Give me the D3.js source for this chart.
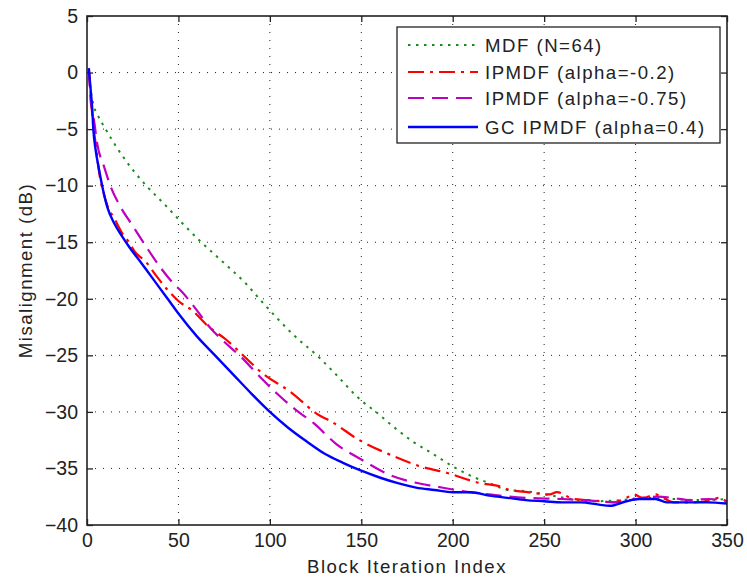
<!DOCTYPE html>
<html>
<head>
<meta charset="utf-8">
<script src="https://cdn.jsdelivr.net/npm/d3@7/dist/d3.min.js"></script>
<style>
  body { margin: 0; background: #fff; }
  #chart text { font-family: 'Liberation Sans', Arial, sans-serif; fill: #222; }
</style>
</head>
<body>
<div id="chart"></div>
<script>
// Values: [block index, misalignment dB]
const xTicks = [0, 50, 100, 150, 200, 250, 300, 350];
const yTicks = [-40, -35, -30, -25, -20, -15, -10, -5, 0, 5];

const mdf = [
  [1, 0.3], [2, -1.5], [3.3, -2.7], [6, -3.8], [9.8, -4.9], [17, -6.8], [26, -8.8],
  [33, -10.1], [42.7, -11.7], [52, -13.3], [62.5, -15], [74, -16.7], [86.5, -18.6],
  [97, -20.5], [113, -23.2], [127, -25.2], [135, -26.5], [150, -29.0], [158, -30.0],
  [169, -31.5], [178, -32.6], [188, -33.6], [202, -35], [212, -35.8], [220, -36.3],
  [230, -36.9], [239, -37.0], [251, -37.3], [261, -37.6], [277, -37.9], [292, -37.8],
  [305, -37.6], [320, -37.7], [335, -37.8], [350, -37.7],
];

const ipmdf02 = [
  [1, 0.3], [2, -1.8], [3, -4], [4.5, -6], [5.6, -7.5], [7, -9.2], [9, -10.6], [11, -11.7],
  [15, -12.9], [20, -14.4], [23, -15.0], [26, -15.8], [32, -16.7], [38, -18], [44, -19.2],
  [50, -20.2], [58, -21.1], [66, -22.4], [76, -23.6], [86, -25.1], [96, -26.6], [111, -28.2],
  [127, -30.3], [133, -30.8], [149, -32.5], [166, -33.8], [182, -34.8], [197, -35.4],
  [215, -36.3], [226, -36.6], [231, -36.9], [241, -37.1], [253, -37.3], [257, -37.1],
  [266, -37.7], [274, -37.8], [281, -37.9], [288, -38.0], [295, -37.6], [299, -37.3],
  [304, -37.6], [311, -37.3], [315, -37.6], [321, -38.0], [331, -38.0], [339, -37.9],
  [346, -37.6], [350, -38.0],
];

const ipmdf075 = [
  [1, 0.2], [2, -2.5], [3, -3.5], [3.8, -4.2], [5.6, -6.3], [9.3, -8.3], [13, -10.1],
  [18.4, -11.9], [24.8, -13.5], [31.2, -15.1], [40, -17.2], [47, -18.6], [52, -19.4],
  [60, -21.0], [67, -22.5], [75, -23.8], [84, -25.1], [94, -26.8], [104, -28.4],
  [114, -29.8], [124, -31.0], [136, -32.8], [151, -34.3], [166, -35.6], [178, -36.2],
  [191, -36.6], [205, -37.0], [220, -37.3], [240, -37.6], [260, -37.7], [280, -37.9],
  [290, -38.0], [300, -37.7], [312, -37.5], [320, -37.6], [330, -37.8], [340, -37.7],
  [350, -37.9],
];

const gcIpmdf = [
  [1, 0.4], [2, -1.5], [2.9, -3.3], [3.5, -5.1], [4.7, -6.8], [6.6, -8.6], [8.4, -10.1],
  [11.1, -11.9], [14.8, -13.3], [19.3, -14.5], [23, -15.4], [30, -16.9], [35, -18.0],
  [40, -19.1], [45, -20.2], [50, -21.3], [60, -23.3], [70, -25.0], [80, -26.7], [90, -28.4],
  [100, -30.0], [110, -31.4], [120, -32.6], [130, -33.7], [140, -34.5], [150, -35.2],
  [160, -35.8], [170, -36.3], [180, -36.7], [190, -36.9], [200, -37.1], [210, -37.1],
  [220, -37.4], [230, -37.6], [240, -37.8], [250, -37.9], [260, -38.0], [270, -38.0],
  [280, -38.2], [286, -38.3], [295, -37.9], [302, -37.7], [311, -37.7], [317, -38.0],
  [328, -38.0], [339, -38.0], [350, -38.1],
];

const seriesNames = ['MDF (N=64)', 'IPMDF (alpha=-0.2)', 'IPMDF (alpha=-0.75)', 'GC IPMDF (alpha=0.4)'];

const ChartApp = {
  init() {
    const W = 747;
    const H = 579;
    const margin = { top: 16, right: 20, bottom: 54, left: 87 };
    const width = W - margin.left - margin.right;
    const height = H - margin.top - margin.bottom;

    const root = d3.select('#chart').append('svg').attr('width', W).attr('height', H);
    const svg = root.append('g').attr('transform', `translate(${margin.left},${margin.top})`);

    const x = d3.scaleLinear().domain([0, 350]).range([0, width]);
    const y = d3.scaleLinear().domain([-40, 5]).range([height, 0]);

    // dotted grid
    const grid = svg.append('g').attr('stroke', '#222').attr('stroke-width', 1).attr('stroke-dasharray', '1,7');
    grid.selectAll('.gx').data(xTicks.slice(1, -1)).enter().append('line')
      .attr('x1', (d) => x(d)).attr('x2', (d) => x(d)).attr('y1', 0).attr('y2', height);
    grid.selectAll('.gy').data(yTicks.slice(1, -1)).enter().append('line')
      .attr('y1', (d) => y(d)).attr('y2', (d) => y(d)).attr('x1', 0).attr('x2', width);

    // axes with inward ticks
    const fontSize = '19.5px';
    const xAxis = svg.append('g').attr('transform', `translate(0,${height})`)
      .call(d3.axisBottom(x).tickValues(xTicks).tickSizeInner(-6).tickSizeOuter(0).tickPadding(8));
    const yAxis = svg.append('g')
      .call(d3.axisLeft(y).tickValues(yTicks).tickSizeInner(-6).tickSizeOuter(0).tickPadding(9));
    svg.append('g')
      .call(d3.axisTop(x).tickValues(xTicks).tickSizeInner(-6).tickSizeOuter(0).tickFormat(''));
    svg.append('g').attr('transform', `translate(${width},0)`)
      .call(d3.axisRight(y).tickValues(yTicks).tickSizeInner(-6).tickSizeOuter(0).tickFormat(''));

    svg.selectAll('.domain').remove();
    svg.selectAll('.tick line').attr('stroke', '#222').attr('stroke-width', 1.3);
    [xAxis, yAxis].forEach((a) => a.selectAll('text').style('font-size', fontSize).attr('fill', '#222'));

    // curves
    svg.append('clipPath').attr('id', 'plot-clip')
      .append('rect').attr('width', width).attr('height', height);

    const line = d3.line().x((d) => x(d[0])).y((d) => y(d[1])).curve(d3.curveMonotoneX);

    const series = [
      { data: mdf, color: '#1a8c1a', dash: '2.5,5.5', w: 2 },
      { data: ipmdf02, color: '#ff0000', dash: '16,6,3,6', w: 2.2 },
      { data: ipmdf075, color: '#bf00bf', dash: '16,8', w: 2.2 },
      { data: gcIpmdf, color: '#0000ff', dash: null, w: 2.4 },
    ];

    const curves = svg.append('g').attr('clip-path', 'url(#plot-clip)');
    series.forEach((s) => {
      curves.append('path')
        .attr('d', line(s.data))
        .attr('fill', 'none')
        .attr('stroke', s.color)
        .attr('stroke-width', s.w)
        .attr('stroke-dasharray', s.dash);
    });

    // frame
    svg.append('rect').attr('width', width).attr('height', height)
      .attr('fill', 'none').attr('stroke', '#222').attr('stroke-width', 1.6);

    // axis titles
    root.append('text')
      .attr('x', margin.left + width / 2).attr('y', 573)
      .attr('text-anchor', 'middle')
      .style('font-size', '18.6px').style('letter-spacing', '1.5px')
      .text('Block Iteration Index');

    root.append('text')
      .attr('transform', `translate(32,${margin.top + height / 2}) rotate(-90)`)
      .attr('text-anchor', 'middle')
      .style('font-size', '18.6px').style('letter-spacing', '1.5px')
      .text('Misalignment (dB)');

    // legend
    const legend = root.append('g').attr('transform', 'translate(397,27)');
    legend.append('rect').attr('width', 323).attr('height', 116)
      .attr('fill', '#fff').attr('stroke', '#222').attr('stroke-width', 1.3);

    const rowY = [18, 45, 71, 100];
    series.forEach((s, i) => {
      legend.append('line')
        .attr('x1', 11).attr('x2', 81).attr('y1', rowY[i]).attr('y2', rowY[i])
        .attr('stroke', s.color).attr('stroke-width', s.w)
        .attr('stroke-dasharray', s.dash);
      legend.append('text')
        .attr('x', 88).attr('y', rowY[i]).attr('dy', '0.36em')
        .style('font-size', '18.6px').style('letter-spacing', '1.5px')
        .text(seriesNames[i]);
    });
  },
};

document.addEventListener('DOMContentLoaded', () => ChartApp.init());
</script>
</body>
</html>
